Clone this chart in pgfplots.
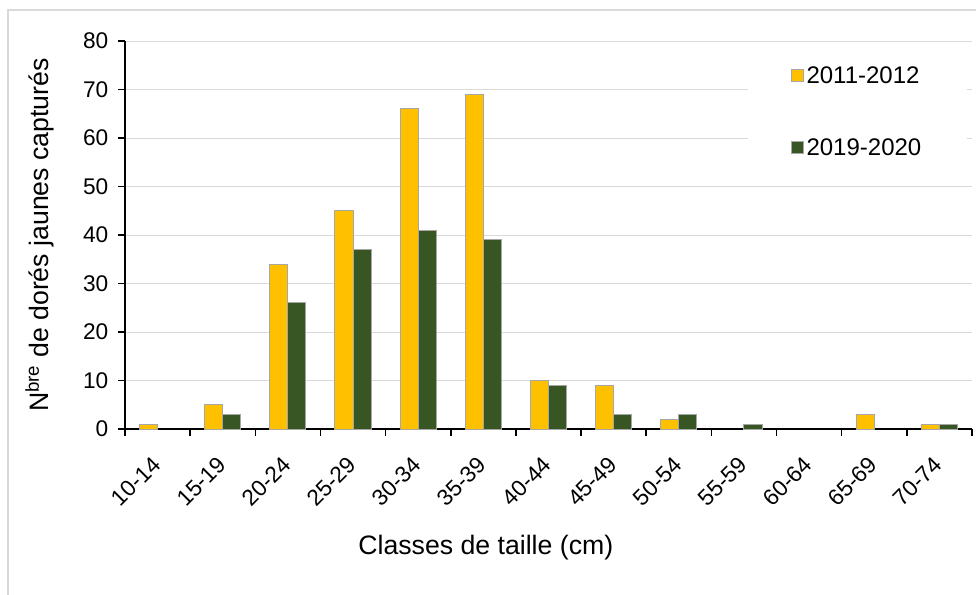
\documentclass[border=0pt]{standalone}
\usepackage{pgfplots}
\pgfplotsset{compat=1.18}
\usepackage{pgfplotstable}
\usepackage{fontspec}
\setmainfont{Liberation Sans}

\definecolor{jaune}{HTML}{FFC000}
\definecolor{vert}{HTML}{375623}
\definecolor{bord}{HTML}{A6A6A6}
\definecolor{grille}{HTML}{D9D9D9}

% classe  2011-2012  2019-2020
\pgfplotstableread{
x a b
0 1 0
1 5 3
2 34 26
3 45 37
4 66 41
5 69 39
6 10 9
7 9 3
8 2 3
9 0 1
10 0 0
11 3 0
12 1 1
}\donnees

\begin{document}
\begin{tikzpicture}
\path[use as bounding box] (-93.75pt,-123.75pt) rectangle (638.25pt,321.75pt);
\draw[grille, line width=1pt] (-87.75pt,-140pt) -- (-87.75pt,314.25pt) -- (660pt,314.25pt);
\begin{axis}[
    at={(0,0)}, anchor=south west,
    scale only axis,
    width=635.25pt, height=291pt,
    ybar=0pt, bar width=0.277,
    xmin=-0.5, xmax=12.5,
    ymin=0, ymax=80,
    ytick={0,10,...,80},
    xtick={-0.5,0.5,...,12.5},
    x tick label as interval,
    xticklabels={10-14,15-19,20-24,25-29,30-34,35-39,40-44,45-49,50-54,55-59,60-64,65-69,70-74},
    axis x line*=bottom, axis y line*=left,
    axis line style={black, line width=1.1pt},
    tick style={black, line width=1.1pt},
    tick align=outside,
    major tick length=5pt,
    ymajorgrids=true,
    grid style={grille, line width=0.75pt},
    /pgf/number format/assume math mode=true,
    yticklabel style={font=\fontsize{17}{20}\selectfont, xshift=-4pt},
    xticklabel style={font=\fontsize{17}{20}\selectfont, rotate=45, anchor=east, inner sep=1pt},
    xticklabel shift=18pt,
    label style={font=\fontsize{20}{24}\selectfont},
    xlabel={Classes de taille (cm)},
    ylabel={N\textsuperscript{bre} de dorés jaunes capturés},
    xlabel style={at={(axis description cs:0.426,-0.3067)}, anchor=center},
    ylabel style={at={(axis description cs:-0.1004,0.5)}, anchor=center},
    legend style={at={(0.994,0.99)}, anchor=north east, draw=none, fill=white,
        font=\fontsize{18}{21}\selectfont, row sep=36pt, inner xsep=32pt, inner ysep=14pt},
    legend cell align=left,
    legend image code/.code={\draw[#1] (0pt,-4.5pt) rectangle (9pt,4.5pt);},
    y filter/.expression={y==0 ? nan : y},
]
\addplot[fill=jaune, draw=bord, line width=0.75pt] table[x=x, y=a]{\donnees};
\addplot[fill=vert, draw=bord, line width=0.75pt] table[x=x, y=b]{\donnees};
\legend{2011-2012, 2019-2020}
\end{axis}
\end{tikzpicture}
\end{document}
